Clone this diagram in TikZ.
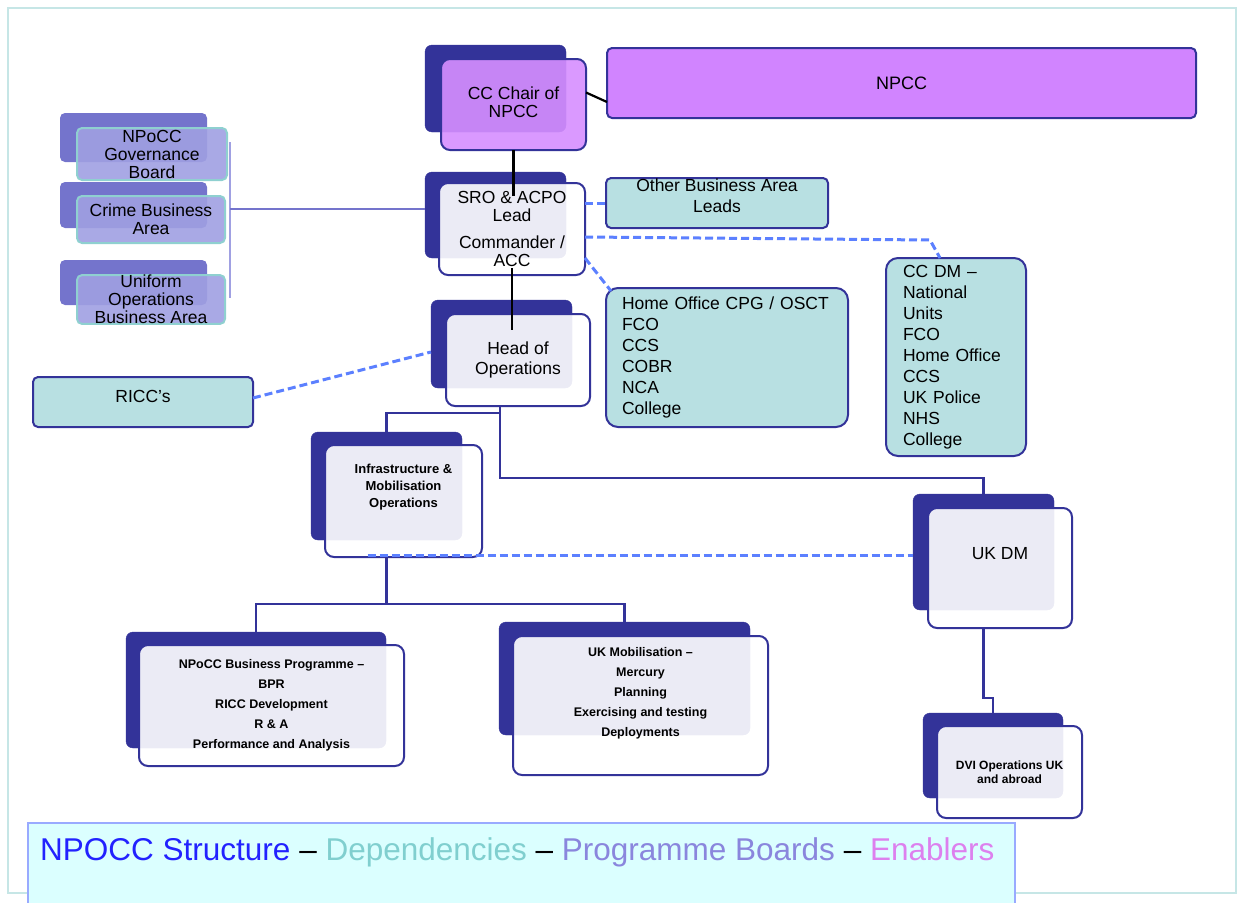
\documentclass[tikz,border=0pt]{standalone}
\usepackage{fontspec}
\setmainfont{Liberation Sans}
\usetikzlibrary{calc}

\definecolor{navy}{HTML}{333399}
\definecolor{chairpurple}{HTML}{D68EFF}
\definecolor{npccpurple}{HTML}{D184FF}
\definecolor{tealfill}{HTML}{B8E0E2}
\definecolor{boardback}{HTML}{7474CC}
\definecolor{boardfront}{HTML}{A0A0E2}
\definecolor{boardedge}{HTML}{8FD0D0}
\definecolor{depblue}{HTML}{5C80FF}
\definecolor{framecol}{HTML}{C6E6E6}
\definecolor{capfill}{HTML}{DBFFFF}
\definecolor{capline}{HTML}{99AAFF}
\definecolor{capblue}{HTML}{2222FF}
\definecolor{capteal}{HTML}{80CFCF}
\definecolor{capviolet}{HTML}{8A86DD}
\definecolor{cappink}{HTML}{DD80EE}

\tikzset{
	backbox/.style={draw=navy, fill=navy, rounded corners=7pt, inner sep=0pt, outer sep=0pt},
	frontbox/.style={draw=navy, line width=2pt, fill=white, fill opacity=0.9, text opacity=1, rounded corners=9pt, inner sep=0pt, outer sep=0pt, align=center, font=\fontsize{17.5}{18}\selectfont},
	smallbox/.style={frontbox, font=\bfseries\fontsize{12.5}{20}\selectfont},
	tealbox/.style={draw=navy, line width=2pt, fill=tealfill, rounded corners=5pt, inner sep=0pt, outer sep=0pt, font=\fontsize{17.5}{21}\selectfont},
	boardbk/.style={fill=boardback, rounded corners=5pt, inner sep=0pt, outer sep=0pt},
	boardbox/.style={draw=boardedge, line width=2pt, fill=boardfront, fill opacity=0.9, text opacity=1, rounded corners=5pt, inner sep=0pt, outer sep=0pt, align=center, font=\fontsize{17.5}{18}\selectfont},
	toplink/.style={black, line width=2.2pt},
	treelink/.style={navy, line width=2.4pt},
	deplink/.style={depblue, line width=3pt, dash pattern=on 8pt off 4pt},
	boardlink/.style={boardback, line width=2.2pt},
}

\begin{document}
\begin{tikzpicture}[x=1pt, y=-1pt]
			%%%%% FRAME %%%%%
			\useasboundingbox (0,0) rectangle (1238,902);
			\draw[framecol, line width=1.2pt] (8,8) rectangle (1236,893);
			
			%%%%% BOARDS %%%%%
			\node[boardbk, minimum width=147pt, minimum height=49pt] (govbk) at (133.5,137.5) {};
			\node[boardbox, minimum width=150pt, minimum height=52pt] (gov) at (152,154) {NPoCC\\Governance\\Board};
			\node[boardbk, minimum width=147pt, minimum height=46pt] (crimebk) at (133.5,205) {};
			\node[boardbox, minimum width=148pt, minimum height=47pt] (crime) at (151,219.5) {Crime Business\\Area};
			\node[boardbk, minimum width=147pt, minimum height=45pt] (unibk) at (133.5,282.5) {};
			\node[boardbox, minimum width=148pt, minimum height=47pt] (uni) at (151,299.5) {Uniform\\Operations\\Business Area};
			
			\coordinate (brtop) at (230,142);
			\coordinate (brbot) at (230,298);
			\coordinate (brmid) at (230,209);
			\draw[boardlink, draw=boardfront] (brtop) -- (brbot);
			
			%%%%% STRUCTURE %%%%%
			\node[backbox, minimum width=141pt, minimum height=87pt] (chairbk) at (495.5,88.5) {};
			\node[frontbox, fill=chairpurple, text depth=4pt, minimum width=145pt, minimum height=91pt] (chair) at (513.5,104.5) {CC Chair of\\NPCC};
			
			\node[backbox, minimum width=141pt, minimum height=86pt] (srobk) at (495.5,215) {};
			\node[frontbox, minimum width=146pt, minimum height=92pt] (sro) at (512,229) {SRO \& ACPO\\Lead\\[9pt]Commander /\\ACC};
			
			\node[backbox, minimum width=141pt, minimum height=88pt] (headbk) at (501.5,344) {};
			\node[frontbox, font=\fontsize{17.5}{20}\selectfont, minimum width=144pt, minimum height=92pt] (head) at (518,360) {Head of\\Operations};
			
			\node[backbox, minimum width=151pt, minimum height=108pt] (infrabk) at (386.5,486) {};
			\node[frontbox, font=\bfseries\fontsize{13}{17}\selectfont, text depth=31pt, minimum width=157pt, minimum height=112pt] (infra) at (403.5,501) {Infrastructure \&\\Mobilisation\\Operations};
			
			\node[backbox, minimum width=141pt, minimum height=116pt] (ukdmbk) at (983.5,552) {};
			\node[frontbox, text depth=30pt, minimum width=144pt, minimum height=120pt] (ukdm) at (1000,568) {UK DM};
			
			\node[backbox, minimum width=260pt, minimum height=116pt] (npoccbk) at (256,690) {};
			\node[smallbox, minimum width=265pt, minimum height=121pt] (npoccbus) at (271.5,705.5) {NPoCC Business Programme –\\BPR\\RICC Development\\R \& A\\Performance and Analysis};
			
			\node[backbox, minimum width=251pt, minimum height=113pt] (ukmobbk) at (624.5,678.5) {};
			\node[smallbox, text depth=27pt, minimum width=255pt, minimum height=139pt] (ukmob) at (640.5,705.5) {UK Mobilisation –\\Mercury\\Planning\\Exercising and testing\\Deployments};
			
			\node[backbox, minimum width=140pt, minimum height=85pt] (dvibk) at (993,755.5) {};
			\node[smallbox, font=\bfseries\fontsize{12}{14}\selectfont, minimum width=145pt, minimum height=92pt] (dvi) at (1009.5,772) {DVI Operations UK\\and abroad};
			
			%%%%% ENABLERS AND DEPENDENCIES %%%%%
			\node[tealbox, fill=npccpurple, font=\fontsize{18}{21}\selectfont, minimum width=589pt, minimum height=70pt] (npcc) at (901.5,83) {NPCC};
			\node[tealbox, align=center, text depth=14pt, minimum width=222pt, minimum height=50pt] (other) at (717,203) {Other Business Area\\Leads};
			\node[tealbox, rounded corners=12pt, align=left, text width=210pt, minimum width=242pt, minimum height=139pt] (home) at (727,357.5) {Home Office CPG / OSCT\\FCO\\CCS\\COBR\\NCA\\College};
			\node[tealbox, rounded corners=12pt, align=left, text width=106pt, minimum width=140pt, minimum height=198pt] (ccdm) at (956,357) {CC DM –\\National\\Units\\FCO\\Home Office\\CCS\\UK Police\\NHS\\College};
			\node[tealbox, text depth=12pt, minimum width=220pt, minimum height=50pt] (ricc) at (143,402) {RICC's};
			
			%%%%% LINKS %%%%%
			\draw[boardlink] (brmid) -- (brmid -| srobk.west);
			
			\draw[toplink] (chair.south) -- ($(chair.south |- sro.north)+(0,13)$);
			\draw[toplink] ($(sro.south)+(0,-7)$) -- ++(0,62);
			\draw[toplink] ($(chair.east)+(0,-12)$) -- ($(npcc.west)+(0,19)$);
			
			\draw[treelink] ($(head.south)+(-18,0)$) -- ++(0,72) -| (ukdmbk.north);
			\draw[treelink] ($(head.south)+(-18,7)$) -| (infrabk.north);
			\draw[treelink] (infra.south -| infrabk.north) -- ++(0,47) coordinate (fork) -| (npoccbk.north);
			\draw[treelink] (fork) -| (ukmobbk.north);
			\draw[treelink] (ukdm.south -| ukdmbk.north) -- ++(0,70) -| (dvibk.north);
			
			\draw[deplink] (other.west -| sro.east) -- (other.west);
			\draw[deplink] ($(sro.east)+(0,8)$) -- ++(345,3) -- ($(ccdm.north)+(-16,0)$);
			\draw[deplink] ($(sro.east)+(0,29)$) -- ($(home.north west)+(5,3)$);
			\draw[deplink] ($(ricc.east)+(0,-4)$) -- ($(headbk.west)+(0,8)$);
			\draw[deplink] ($(infra.south)+(-36,-2)$) -- ($(infra.south -| ukdmbk.west)+(0,-2)$);
			
			%%%%% CAPTION %%%%%
			\draw[capline, fill=capfill, line width=1.2pt] (28,823) rectangle (1015,906);
			\node[anchor=base west, inner sep=0pt, font=\fontsize{31.5}{36}\selectfont] (title) at (40,860) {\textcolor{capblue}{NPOCC Structure} – \textcolor{capteal}{Dependencies} – \textcolor{capviolet}{Programme Boards} – \textcolor{cappink}{Enablers}};
\end{tikzpicture}
\end{document}
